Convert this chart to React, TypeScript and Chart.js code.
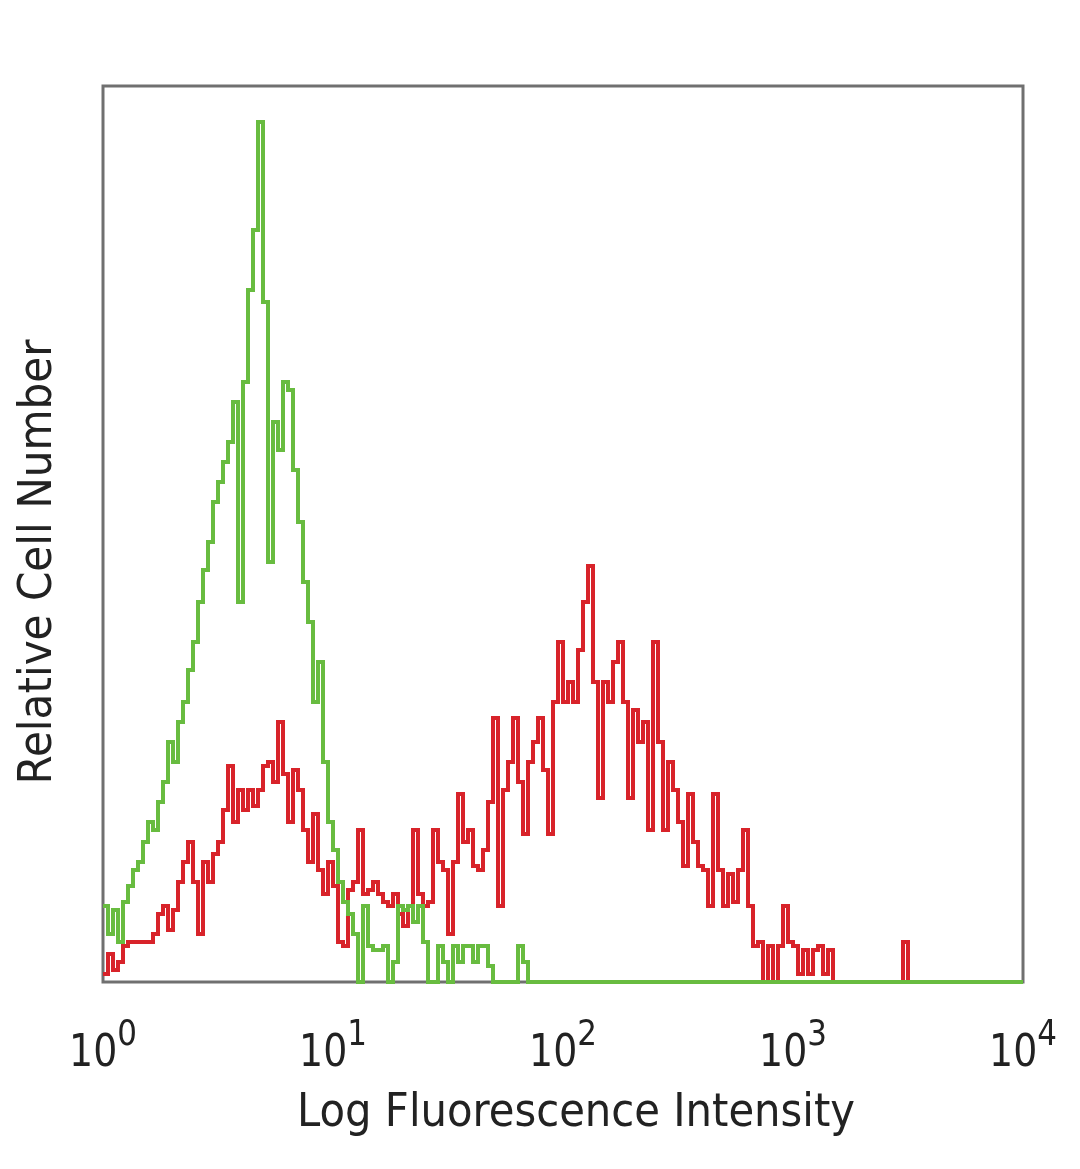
import React, { useEffect, useRef } from 'react';
import { Chart, registerables } from 'chart.js';

Chart.register(...registerables);

// ---- data -----------------------------------------------------------
const CHANNELS = 184; // histogram bins spread evenly over 4 log decades
const DECADES = 4;
const tickValues = [1, 10, 100, 1000, 10000];
const tickBase = '10';
const tickExponents = ['0', '1', '2', '3', '4'];
const xTitle = 'Log Fluorescence Intensity';
const yTitle = 'Relative Cell Number';
const yMax = 224;

const greenCounts = [
  19, 12, 18, 10, 20, 24, 28, 30, 35, 40,
  38, 45, 50, 60, 55, 65, 70, 78, 85, 95,
  103, 110, 120, 125, 130, 135, 145, 95, 150, 173,
  188, 215, 170, 105, 140, 133, 150, 148, 128, 115,
  100, 90, 70, 80, 55, 40, 33, 25, 20, 17,
  12, 0, 19, 9, 8, 8, 9, 0, 5, 19,
  18, 19, 15, 19, 10, 0, 0, 9, 5, 0,
  9, 5, 9, 9, 5, 9, 9, 4, 0, 0,
  0, 0, 0, 9, 5, 0, 0, 0, 0, 0,
  0, 0, 0, 0, 0, 0, 0, 0, 0, 0,
  0, 0, 0, 0, 0, 0, 0, 0, 0, 0,
  0, 0, 0, 0, 0, 0, 0, 0, 0, 0,
  0, 0, 0, 0, 0, 0, 0, 0, 0, 0,
  0, 0, 0, 0, 0, 0, 0, 0, 0, 0,
  0, 0, 0, 0, 0, 0, 0, 0, 0, 0,
  0, 0, 0, 0, 0, 0, 0, 0, 0, 0,
  0, 0, 0, 0, 0, 0, 0, 0, 0, 0,
  0, 0, 0, 0, 0, 0, 0, 0, 0, 0,
  0, 0, 0, 0,
];

const redCounts = [
  2, 7, 3, 5, 9, 10, 10, 10, 10, 10,
  12, 17, 19, 13, 18, 25, 30, 35, 25, 12,
  30, 25, 32, 35, 43, 54, 40, 48, 43, 48,
  44, 48, 54, 55, 50, 65, 52, 40, 53, 48,
  38, 30, 42, 28, 22, 30, 24, 10, 9, 23,
  25, 38, 22, 23, 25, 22, 20, 19, 22, 17,
  14, 19, 38, 22, 19, 20, 38, 30, 28, 12,
  30, 47, 35, 38, 29, 28, 33, 45, 66, 19,
  48, 55, 66, 50, 37, 55, 60, 66, 53, 37,
  70, 85, 70, 75, 70, 83, 95, 104, 75, 46,
  75, 70, 80, 85, 70, 46, 68, 60, 65, 38,
  85, 60, 38, 55, 48, 40, 29, 47, 35, 29,
  28, 19, 47, 28, 19, 27, 20, 28, 38, 19,
  9, 10, 0, 9, 0, 9, 19, 10, 9, 2,
  8, 2, 8, 9, 2, 8, 0, 0, 0, 0,
  0, 0, 0, 0, 0, 0, 0, 0, 0, 0,
  10, 0, 0, 0, 0, 0, 0, 0, 0, 0,
  0, 0, 0, 0, 0, 0, 0, 0, 0, 0,
  0, 0, 0, 0,
];

// histogram bins -> stepped points (left edge of every bin, plus final right edge)
function toSteps(counts: number[]) {
  const pts = counts.map((c, i) => ({ x: Math.pow(10, (i * DECADES) / CHANNELS), y: c }));
  pts.push({ x: Math.pow(10, DECADES), y: counts[counts.length - 1] });
  return pts;
}

const FONT = '"DejaVu Sans", Verdana, sans-serif';
const TEXT_COLOR = '#222222';
const FRAME_COLOR = '#707070';

function drawScaled(
  ctx: CanvasRenderingContext2D,
  text: string,
  x: number,
  y: number,
  size: number,
  targetWidth: number | null,
  sx: number,
  rotate = 0
) {
  ctx.save();
  ctx.font = `${size}px ${FONT}`;
  const w = ctx.measureText(text).width;
  const s = targetWidth ? targetWidth / w : sx;
  ctx.translate(x, y);
  if (rotate) ctx.rotate(rotate);
  ctx.scale(s, 1);
  ctx.textAlign = 'center';
  ctx.textBaseline = 'alphabetic';
  ctx.fillText(text, 0, 0);
  ctx.restore();
}

const framePlugin = {
  id: 'frameAndText',
  beforeDatasetsDraw(chart: any) {
    const { ctx, chartArea } = chart;
    ctx.save();
    ctx.strokeStyle = FRAME_COLOR;
    ctx.lineWidth = 3;
    ctx.strokeRect(chartArea.left, chartArea.top, chartArea.right - chartArea.left, chartArea.bottom - chartArea.top);
    ctx.restore();
  },
  afterDraw(chart: any) {
    const { ctx, chartArea } = chart;
    const xs = chart.scales.x;
    ctx.save();
    ctx.fillStyle = TEXT_COLOR;
    const sx = 0.86;
    tickValues.forEach((v, i) => {
      const px = xs.getPixelForValue(v);
      ctx.font = `44px ${FONT}`;
      const wb = ctx.measureText(tickBase).width * sx;
      ctx.font = `36px ${FONT}`;
      const we = ctx.measureText(tickExponents[i]).width * sx;
      const start = px - (wb + we) / 2;
      drawScaled(ctx, tickBase, start + wb / 2, chartArea.bottom + 84, 44, null, sx);
      drawScaled(ctx, tickExponents[i], start + wb + we / 2, chartArea.bottom + 63, 36, null, sx);
    });
    const cx = (chartArea.left + chartArea.right) / 2 + 13;
    drawScaled(ctx, xTitle, cx, chartArea.bottom + 144, 46, 558, 1);
    const cy = (chartArea.top + chartArea.bottom) / 2 + 28;
    drawScaled(ctx, yTitle, 51, cy, 46, 445, 1, -Math.PI / 2);
    ctx.restore();
  },
};

export default function App() {
  const ref = useRef<HTMLCanvasElement | null>(null);

  useEffect(() => {
    document.body.style.margin = '0';
    document.body.style.background = '#ffffff';
    const canvas = ref.current;
    if (!canvas) return;
    const chart = new Chart(canvas, {
      type: 'line',
      data: {
        datasets: [
          {
            label: 'Isotype control',
            data: toSteps(greenCounts),
            borderColor: '#68bc40',
            borderWidth: 4,
            stepped: 'before',
            pointRadius: 0,
            fill: false,
            clip: 4,
          },
          {
            label: 'Stained',
            data: toSteps(redCounts),
            borderColor: '#d8232a',
            borderWidth: 4,
            stepped: 'before',
            pointRadius: 0,
            fill: false,
            clip: 4,
          },
        ],
      },
      options: {
        animation: false,
        responsive: false,
        maintainAspectRatio: false,
        devicePixelRatio: 1,
        layout: { padding: { left: 103, top: 86, right: 57, bottom: 187 } },
        plugins: {
          legend: { display: false },
          tooltip: { enabled: false },
        },
        scales: {
          x: {
            type: 'logarithmic',
            min: 1,
            max: 10000,
            ticks: { display: false },
            grid: { display: false, drawTicks: false },
            border: { display: false },
          },
          y: {
            type: 'linear',
            min: 0,
            max: yMax,
            ticks: { display: false },
            grid: { display: false, drawTicks: false },
            border: { display: false },
          },
        },
      },
      plugins: [framePlugin],
    });
    return () => chart.destroy();
  }, []);

  return (
    <div style={{ width: 1080, height: 1169, background: '#fff' }}>
      <canvas ref={ref} width={1080} height={1169} style={{ display: 'block' }} />
    </div>
  );
}
